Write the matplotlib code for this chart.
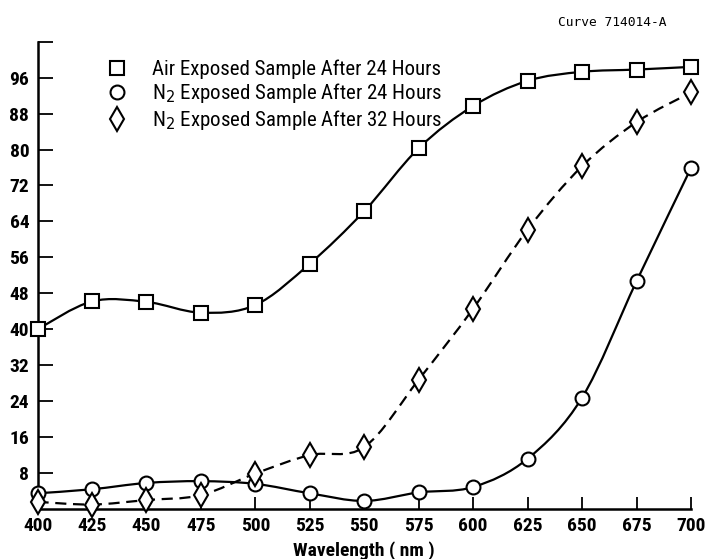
import numpy as np
import matplotlib
matplotlib.use("Agg")
import matplotlib.pyplot as plt
from matplotlib import font_manager
from matplotlib.path import Path
from matplotlib.patches import PathPatch
from matplotlib.lines import Line2D

# narrow font if there is one, else plain DejaVu
narrow = None
for fam in ['Liberation Sans Narrow', 'DejaVu Sans Condensed', 'Roboto Condensed', 'Open Sans Condensed']:
    try:
        font_manager.findfont(font_manager.FontProperties(family=fam), fallback_to_default=False)
        narrow = fam
        break
    except Exception:
        pass
base = narrow if narrow else 'DejaVu Sans'
fs = 14 if narrow else 12
plt.rcParams['font.family'] = [base, 'DejaVu Sans']

# data
wavelength = [400, 425, 450, 475, 500, 525, 550, 575, 600, 625, 650, 675, 700]
air_24 = [40.0, 46.2, 46.1, 43.7, 45.4, 54.6, 66.3, 80.3, 89.7, 95.3, 97.3, 97.8, 98.4]
n2_24 = [3.5, 4.4, 5.8, 6.2, 5.6, 3.5, 1.8, 3.7, 4.9, 11.2, 24.8, 50.7, 75.9]
n2_32 = [1.6, 1.0, 2.0, 3.1, 7.9, 12.0, 13.8, 28.8, 44.6, 62.2, 76.3, 86.1, 92.7]

labels = ["Air Exposed Sample After 24 Hours",
          "N$_2$ Exposed Sample After 24 Hours",
          "N$_2$ Exposed Sample After 32 Hours"]
xticks = [400, 425, 450, 475, 500, 525, 550, 575, 600, 625, 650, 675, 700]
yticks = [8, 16, 24, 32, 40, 48, 56, 64, 72, 80, 88, 96]


def smooth_path(x, y):
    # catmull-rom through the points, as cubic bezier segments
    p = np.column_stack([x, y]).astype(float)
    p = np.vstack([p[0], p, p[-1]])
    verts = [p[1]]
    codes = [Path.MOVETO]
    for i in range(1, len(p) - 2):
        b1 = p[i] + (p[i + 1] - p[i - 1]) / 6.0
        b2 = p[i + 1] - (p[i + 2] - p[i]) / 6.0
        verts += [b1, b2, p[i + 1]]
        codes += [Path.CURVE4] * 3
    return Path(verts, codes)


fig = plt.figure(figsize=(7.08, 5.59), dpi=100)
ax = fig.add_axes([0.053, 0.0894, 0.923, 0.836])

lw = 1.6
ax.add_patch(PathPatch(smooth_path(wavelength, air_24), fill=False, lw=lw, ec='black', zorder=2))
ax.add_patch(PathPatch(smooth_path(wavelength, n2_24), fill=False, lw=lw, ec='black', zorder=2))
ax.add_patch(PathPatch(smooth_path(wavelength, n2_32), fill=False, lw=lw, ec='black',
                       linestyle=(0, (5, 3)), zorder=2))

mk = dict(color='none', mfc='white', mec='black', mew=1.5, zorder=3, clip_on=False)
ax.plot(wavelength, air_24, marker='s', ms=9.5, **mk)
ax.plot(wavelength, n2_24, marker='o', ms=10, **mk)
ax.plot(wavelength, n2_32, marker='d', ms=12, **mk)

ax.set_xlim(400, 700)
ax.set_ylim(0, 104)
ax.set_xticks(xticks)
ax.set_yticks(yticks + [104])
ax.set_yticklabels([str(v) for v in yticks] + [''])
ax.tick_params(axis='x', direction='in', length=9, width=1.3, pad=6, labelsize=fs)
ax.tick_params(axis='y', direction='in', length=11, width=1.3, pad=6, labelsize=fs)
for t in ax.get_xticklabels() + ax.get_yticklabels():
    t.set_fontweight('bold')

for s in ['top', 'right']:
    ax.spines[s].set_visible(False)
ax.spines['left'].set_linewidth(1.8)
ax.spines['bottom'].set_linewidth(1.8)

ax.set_xlabel("Wavelength ( nm )", fontsize=fs, fontweight='bold', labelpad=4)

handles = [Line2D([], [], ls='none', marker=m, ms=s, mfc='white', mec='black', mew=1.5)
           for m, s in [('s', 9.5), ('o', 10), ('d', 12)]]
ax.legend(handles, labels, loc='upper left', bbox_to_anchor=(0.093, 0.98), frameon=False,
          fontsize=fs + 1, handlelength=1.0, handletextpad=1.2, labelspacing=0.12,
          borderaxespad=0)

fig.text(0.788, 0.953, "Curve 714014-A", fontsize=9.3, family='DejaVu Sans Mono')

fig.savefig("out.png", dpi=100)
